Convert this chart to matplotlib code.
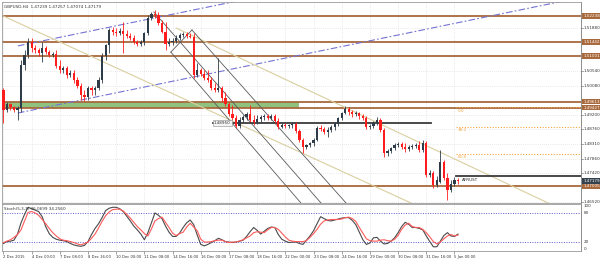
import matplotlib
matplotlib.use("Agg")
import matplotlib.pyplot as plt
import matplotlib.transforms as mtransforms
import numpy as np

# ---- GBPUSD H4 candles ----
opens = [1.4997, 1.4935, 1.4954, 1.4945, 1.4935, 1.4941, 1.5073, 1.5104, 1.5144, 1.5126,
         1.5119, 1.5110, 1.5126, 1.5113, 1.5104, 1.5107, 1.5070, 1.5058, 1.5064, 1.5043,
         1.5049, 1.5027, 1.5009, 1.4981, 1.4975, 1.5003, 1.4997, 1.5003, 1.5027, 1.5101,
         1.5135, 1.5181, 1.5175, 1.5172, 1.5178, 1.5169, 1.5162, 1.5156, 1.5144, 1.5138,
         1.5144, 1.5172, 1.5218, 1.5230, 1.5227, 1.5202, 1.5175, 1.5138, 1.5144, 1.5147,
         1.5156, 1.5166, 1.5169, 1.5162, 1.5159, 1.5043, 1.5058, 1.5046, 1.5034, 1.5027,
         1.5003, 1.4997, 1.5003, 1.4972, 1.4954, 1.4923, 1.4911, 1.4886, 1.4905, 1.4914,
         1.4923, 1.4905, 1.4898, 1.4908, 1.4914, 1.4917, 1.4911, 1.4917, 1.4902, 1.4883,
         1.4889, 1.4886, 1.4889, 1.4892, 1.4871, 1.4843, 1.4822, 1.4828, 1.4834, 1.4843,
         1.4880, 1.4877, 1.4868, 1.4874, 1.4883, 1.4892, 1.4911, 1.4926, 1.4938, 1.4929,
         1.4923, 1.4926, 1.4917, 1.4911, 1.4883, 1.4886, 1.4895, 1.4905, 1.4874, 1.4803,
         1.4809, 1.4819, 1.4828, 1.4831, 1.4822, 1.4816, 1.4822, 1.4825, 1.4828, 1.4812,
         1.4834, 1.4736, 1.4742, 1.4705, 1.4714, 1.4776, 1.4727, 1.4690, 1.4708, 1.4720]
highs = [1.5003, 1.4960, 1.4957, 1.4948, 1.4948, 1.5089, 1.5119, 1.5156, 1.5156, 1.5135,
         1.5126, 1.5144, 1.5132, 1.5119, 1.5113, 1.5119, 1.5089, 1.5070, 1.5070, 1.5058,
         1.5058, 1.5037, 1.5018, 1.4997, 1.5009, 1.5009, 1.5009, 1.5037, 1.5110, 1.5138,
         1.5187, 1.5190, 1.5187, 1.5187, 1.5205, 1.5181, 1.5172, 1.5166, 1.5150, 1.5150,
         1.5175, 1.5227, 1.5236, 1.5242, 1.5236, 1.5211, 1.5205, 1.5156, 1.5156, 1.5166,
         1.5172, 1.5175, 1.5175, 1.5172, 1.5172, 1.5080, 1.5064, 1.5058, 1.5058, 1.5037,
         1.5018, 1.5095, 1.5009, 1.4991, 1.4960, 1.4951, 1.4920, 1.4914, 1.4920, 1.4929,
         1.4951, 1.4920, 1.4920, 1.4920, 1.4923, 1.4923, 1.4923, 1.4923, 1.4911, 1.4895,
         1.4895, 1.4892, 1.4898, 1.4898, 1.4877, 1.4849, 1.4831, 1.4837, 1.4849, 1.4886,
         1.4889, 1.4883, 1.4883, 1.4889, 1.4898, 1.4914, 1.4929, 1.4948, 1.4945, 1.4935,
         1.4932, 1.4929, 1.4923, 1.4917, 1.4892, 1.4902, 1.4914, 1.4911, 1.4880, 1.4816,
         1.4822, 1.4834, 1.4837, 1.4837, 1.4834, 1.4828, 1.4831, 1.4834, 1.4840, 1.4843,
         1.4840, 1.4751, 1.4748, 1.4733, 1.4812, 1.4781, 1.4742, 1.4720, 1.4730, 1.4727]
lows = [1.4895, 1.4929, 1.4935, 1.4929, 1.4905, 1.4929, 1.5058, 1.5095, 1.5113, 1.5110,
        1.5101, 1.5083, 1.5107, 1.5098, 1.5098, 1.5064, 1.5049, 1.5049, 1.5034, 1.5037,
        1.5018, 1.5003, 1.4966, 1.4963, 1.4966, 1.4981, 1.4981, 1.4997, 1.5018, 1.5089,
        1.5110, 1.5166, 1.5162, 1.5166, 1.5110, 1.5156, 1.5150, 1.5138, 1.5132, 1.5132,
        1.5135, 1.5166, 1.5211, 1.5218, 1.5196, 1.5172, 1.5119, 1.5132, 1.5135, 1.5141,
        1.5150, 1.5159, 1.5156, 1.5156, 1.5034, 1.5037, 1.5040, 1.5027, 1.5021, 1.4997,
        1.4991, 1.4991, 1.4960, 1.4948, 1.4917, 1.4905, 1.4880, 1.4880, 1.4898, 1.4905,
        1.4898, 1.4889, 1.4892, 1.4898, 1.4905, 1.4905, 1.4905, 1.4895, 1.4877, 1.4880,
        1.4880, 1.4880, 1.4880, 1.4865, 1.4837, 1.4803, 1.4816, 1.4822, 1.4825, 1.4840,
        1.4871, 1.4862, 1.4852, 1.4868, 1.4874, 1.4886, 1.4905, 1.4923, 1.4920, 1.4914,
        1.4917, 1.4908, 1.4905, 1.4877, 1.4877, 1.4880, 1.4889, 1.4868, 1.4791, 1.4794,
        1.4803, 1.4812, 1.4822, 1.4816, 1.4806, 1.4809, 1.4816, 1.4819, 1.4806, 1.4806,
        1.4730, 1.4730, 1.4696, 1.4699, 1.4711, 1.4720, 1.4659, 1.4684, 1.4702, 1.4708]
closes = [1.4935, 1.4954, 1.4945, 1.4935, 1.4941, 1.5073, 1.5104, 1.5144, 1.5126, 1.5119,
          1.5110, 1.5126, 1.5113, 1.5104, 1.5107, 1.5070, 1.5058, 1.5064, 1.5043, 1.5049,
          1.5027, 1.5009, 1.4981, 1.4975, 1.5003, 1.4997, 1.5003, 1.5027, 1.5101, 1.5135,
          1.5181, 1.5175, 1.5172, 1.5178, 1.5169, 1.5162, 1.5156, 1.5144, 1.5138, 1.5144,
          1.5172, 1.5218, 1.5230, 1.5227, 1.5202, 1.5175, 1.5138, 1.5144, 1.5147, 1.5156,
          1.5166, 1.5169, 1.5162, 1.5159, 1.5043, 1.5058, 1.5046, 1.5034, 1.5027, 1.5003,
          1.4997, 1.5003, 1.4972, 1.4954, 1.4923, 1.4911, 1.4886, 1.4905, 1.4914, 1.4923,
          1.4905, 1.4898, 1.4908, 1.4914, 1.4917, 1.4911, 1.4917, 1.4902, 1.4883, 1.4889,
          1.4886, 1.4889, 1.4892, 1.4871, 1.4843, 1.4822, 1.4828, 1.4834, 1.4843, 1.4880,
          1.4877, 1.4868, 1.4874, 1.4883, 1.4892, 1.4911, 1.4926, 1.4938, 1.4929, 1.4923,
          1.4926, 1.4917, 1.4911, 1.4883, 1.4886, 1.4895, 1.4905, 1.4874, 1.4803, 1.4809,
          1.4819, 1.4828, 1.4831, 1.4822, 1.4816, 1.4822, 1.4825, 1.4828, 1.4812, 1.4834,
          1.4736, 1.4742, 1.4705, 1.4720, 1.4776, 1.4727, 1.4690, 1.4708, 1.4720, 1.4718]

# stochastic (5,3,3)
stoch_main = [16, 20, 21, 23, 36, 60, 78, 93, 90, 87,
              84, 73, 52, 37, 29, 25, 23, 22, 20, 16,
              13, 11, 10, 12, 20, 35, 48, 58, 71, 86,
              91, 93, 93, 90, 84, 74, 64, 53, 45, 36,
              24, 39, 60, 81, 76, 69, 53, 40, 31, 31,
              38, 50, 60, 66, 56, 34, 14, 11, 14, 18,
              22, 27, 24, 20, 19, 18, 19, 21, 23, 31,
              41, 50, 44, 36, 42, 48, 51, 50, 35, 25,
              21, 18, 19, 19, 16, 14, 23, 32, 43, 58,
              73, 69, 65, 64, 66, 68, 70, 71, 71, 65,
              56, 40, 24, 14, 17, 28, 29, 21, 15, 16,
              21, 28, 39, 52, 61, 57, 50, 50, 48, 45,
              32, 20, 9, 9, 21, 33, 39, 32, 31, 36]
stoch_signal = [18, 21, 24, 29, 35, 45, 64, 82, 84, 81,
                76, 67, 58, 48, 39, 32, 26, 23, 22, 20,
                18, 15, 13, 16, 19, 27, 36, 49, 63, 75,
                83, 88, 89, 89, 85, 78, 70, 61, 52, 45,
                37, 32, 47, 64, 69, 72, 61, 50, 38, 33,
                37, 40, 51, 59, 51, 43, 25, 19, 19, 20,
                22, 23, 23, 20, 18, 19, 19, 21, 24, 28,
                32, 39, 41, 40, 39, 45, 50, 50, 46, 38,
                30, 23, 21, 20, 20, 20, 22, 29, 37, 46,
                57, 64, 66, 67, 67, 67, 68, 71, 72, 69,
                63, 50, 38, 26, 22, 21, 21, 23, 24, 22,
                21, 25, 33, 46, 55, 59, 52, 50, 50, 46,
                39, 30, 20, 15, 19, 26, 32, 35, 32, 34]

date_ticks = [0, 8, 16, 24, 32, 40, 48, 56, 64, 72, 80, 88, 96, 104, 112, 120, 128]
date_labels = ["2 Dec 2015", "4 Dec 00:00", "7 Dec 08:00", "8 Dec 16:00", "10 Dec 00:00",
               "11 Dec 08:00", "14 Dec 16:00", "16 Dec 00:00", "17 Dec 08:00", "18 Dec 16:00",
               "22 Dec 00:00", "23 Dec 08:00", "24 Dec 16:00", "29 Dec 00:00", "30 Dec 08:00",
               "31 Dec 16:00", "5 Jan 00:00"]

price_ticks = [1.51880, 1.50540, 1.50080, 1.49200, 1.48760, 1.48310, 1.47860, 1.47420, 1.46520]
sr_levels = [1.52238, 1.51442, 1.51001, 1.49613, 1.49427, 1.47005]
last_price = 1.47179

# drawn objects: (bar, price) end points
zone = (1.49427, 1.49613, 83.9)
channel_up = [(4.1, 1.5132), (80, 1.5300)]
channel_dn = [(4.1, 1.4926), (164, 1.5281)]
tan_a = [(-0.7, 1.5227), (115.6, 1.4650)]
tan_b = [(49.0, 1.5187), (155.9, 1.4643)]
fork_mid = [(42.7, 1.5236), (90.1, 1.4650)]
fork_hi = [(53.5, 1.5181), (97.2, 1.4650)]
fork_lo = [(47.5, 1.5113), (84.4, 1.4650)]
fork_handle = [(47.5, 1.5113), (53.5, 1.5181)]
line_mid = (1.48950, 59.5, 121.3)
line_low = (1.47330, 128.4, 170)
fib_levels = [1.4943, 1.4883, 1.4800]
fib_names = ["0.0", "38.2", "61.8"]

W, H = 600, 261
fig = plt.figure(figsize=(W / 100, H / 100), dpi=100)
fig.patch.set_facecolor("white")
ax = fig.add_axes([2 / W, 1 - 203 / H, 579 / W, 201 / H])
axs = fig.add_axes([2 / W, 1 - 251 / H, 579 / W, 47 / H])

bull = "#2e3b48"
bear = "#ff1c1c"
brown = "#a8693c"
fs = 3.0
xmin, xmax = -0.4, 163.9

for a in (ax, axs):
    a.set_xlim(xmin, xmax)
    for s in a.spines.values():
        s.set_color("#9a9a9a")
        s.set_linewidth(0.6)
    a.spines["right"].set_color("#7a7a7a")
    for t in date_ticks:
        a.axvline(t, color="#d4d4d4", lw=0.5, ls=(0, (1, 2)), zorder=0)

ax.set_ylim(1.46497, 1.52668)
for p in price_ticks:
    ax.axhline(p, color="#d4d4d4", lw=0.5, ls=(0, (1, 2)), zorder=0)

# support / resistance zone and levels
ax.fill_between([xmin, zone[2]], zone[0], zone[1], color="#8fc27e", lw=0, zorder=1)
for lv in sr_levels:
    ax.axhline(lv, color=brown, lw=1.3, zorder=2)

dashdot = (0, (6, 2, 1.5, 2))
for ln in (channel_up, channel_dn):
    ax.plot([ln[0][0], ln[1][0]], [ln[0][1], ln[1][1]], color="#7373d2", lw=0.8, ls=dashdot, zorder=2)
for ln in (tan_a, tan_b):
    ax.plot([ln[0][0], ln[1][0]], [ln[0][1], ln[1][1]], color="#d9cf9f", lw=0.8, zorder=2)
for ln in (fork_mid, fork_hi, fork_lo, fork_handle):
    ax.plot([ln[0][0], ln[1][0]], [ln[0][1], ln[1][1]], color="#5a5a5a", lw=0.6, zorder=2)

ax.plot([line_mid[1], line_mid[2]], [line_mid[0]] * 2, color="#3a3a3a", lw=1.3, zorder=2)
ax.text(line_mid[1] + 0.2, line_mid[0], "1.48950", fontsize=fs, color="#333333", va="center", ha="left",
        bbox=dict(boxstyle="square,pad=0.25", fc="#f4f4f4", ec="#8a8a8a", lw=0.4), zorder=5)
ax.plot([line_low[1], line_low[2]], [line_low[0]] * 2, color="#3a3a3a", lw=1.3, zorder=2)

for lv, nm in zip(fib_levels, fib_names):
    ax.plot([128.4, xmax], [lv, lv], color="#f5a540", lw=0.8, ls=(0, (1, 1.5)), zorder=2)
    ax.text(129.0, lv - 0.0004, nm, fontsize=fs, color="#f5a540", va="top", ha="left", zorder=5)

# candles
idx = np.arange(len(closes))
o = np.array(opens)
c = np.array(closes)
hi = np.maximum(np.array(highs), np.maximum(o, c))
lo = np.minimum(np.array(lows), np.minimum(o, c))
col = np.where(c >= o, bull, bear)
ax.vlines(idx, lo, hi, colors=col, lw=0.6, zorder=3)
body = np.maximum(np.abs(c - o), 0.00009)
ax.bar(idx, body, width=0.62, bottom=np.minimum(o, c), color=col, lw=0, zorder=4)

ax.text(130.0, 1.4721, "AFRUST", fontsize=fs, color="#222222", va="center", ha="left", zorder=5)
ax.text(0.004, 0.985, "GBPUSD,H4  1.47239 1.47257 1.47074 1.47179", transform=ax.transAxes,
        fontsize=fs, color="#333333", va="top", ha="left")

# right price scale
ax.set_yticks([])
ax.set_xticks([])
tr = mtransforms.blended_transform_factory(ax.transAxes, ax.transData)
for p in price_ticks:
    ax.text(1.004, p, "%.5f" % p, transform=tr, fontsize=fs, color="#333333", va="center", ha="left",
            clip_on=False)
    ax.plot([1.0, 1.003], [p, p], transform=tr, color="#7a7a7a", lw=0.5, clip_on=False)
for lv in sr_levels:
    ax.text(1.004, lv, "%.5f" % lv, transform=tr, fontsize=fs, color="white", va="center", ha="left",
            clip_on=False, bbox=dict(boxstyle="square,pad=0.2", fc=brown, ec="none"))
ax.text(1.004, last_price, "%.5f" % last_price, transform=tr, fontsize=fs, color="white", va="center",
        ha="left", clip_on=False, bbox=dict(boxstyle="square,pad=0.2", fc="#35424e", ec="none"))

# stochastic panel
axs.set_ylim(0, 100)
axs.plot(idx, stoch_main, color="#4a4a4a", lw=0.8, zorder=3)
axs.plot(idx, stoch_signal, color="#ff5a5a", lw=0.8, zorder=3)
for lv in (80, 20):
    axs.axhline(lv, color="#5a5ad0", lw=0.7, ls=(0, (1, 1.5)), zorder=2)
axs.text(0.003, 0.93, "Stoch(5,3,3) 36.0699 34.2560", transform=axs.transAxes, fontsize=fs,
         color="#333333", va="top", ha="left")
trs = mtransforms.blended_transform_factory(axs.transAxes, axs.transData)
for v, va in ((100, "top"), (80, "center"), (20, "center"), (0, "bottom")):
    axs.text(1.004, v, str(v), transform=trs, fontsize=fs, color="#333333", va=va, ha="left",
             clip_on=False)
axs.set_yticks([])
axs.set_xticks(date_ticks)
axs.set_xticklabels(date_labels, fontsize=2.7, color="#333333", ha="left")
axs.tick_params(axis="x", length=2, width=0.5, color="#7a7a7a", pad=1)

fig.savefig("out.png", dpi=100, facecolor="white")
